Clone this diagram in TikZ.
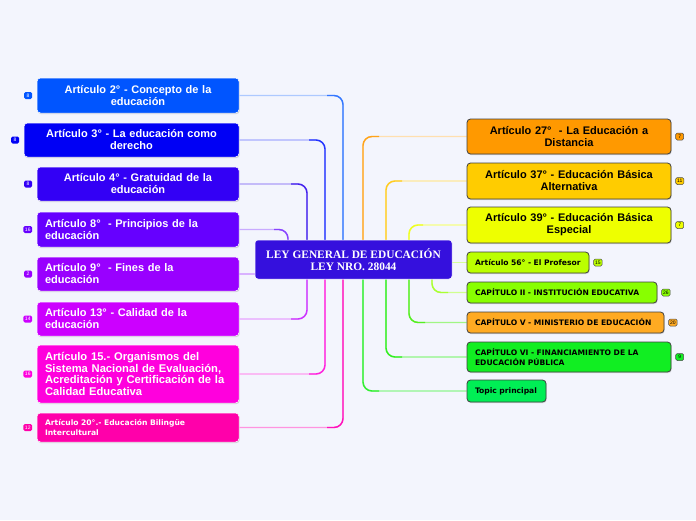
\documentclass[tikz,border=0pt]{standalone}
\usepackage{fontspec}
\setmainfont{Liberation Serif}
\setsansfont{Liberation Sans}
\newfontfamily\dvs{DejaVu Sans}
\usetikzlibrary{shadows,calc}
\pgfdeclarelayer{lines}
\pgfsetlayers{lines,main}
\definecolor{bg}{HTML}{F3F5FD}
\definecolor{cC}{HTML}{3510DD}
\definecolor{cA}{HTML}{0055FF}
\definecolor{cB}{HTML}{0000F5}
\definecolor{cD}{HTML}{3300F5}
\definecolor{cE}{HTML}{6600FF}
\definecolor{cF}{HTML}{9900FF}
\definecolor{cG}{HTML}{CC00FF}
\definecolor{cH}{HTML}{FF00DD}
\definecolor{cI}{HTML}{FF00AA}
\definecolor{rA}{HTML}{FF9900}
\definecolor{rB}{HTML}{FFCC00}
\definecolor{rD}{HTML}{EEFF00}
\definecolor{rE}{HTML}{BBFF00}
\definecolor{rF}{HTML}{88FF00}
\definecolor{rG}{HTML}{FFAA22}
\definecolor{rH}{HTML}{11EE22}
\definecolor{rI}{HTML}{00EE55}
\definecolor{vA}{HTML}{3377FF}
\definecolor{vB}{HTML}{2233FF}
\definecolor{vD}{HTML}{4422EE}
\definecolor{vE}{HTML}{8844FF}
\definecolor{vF}{HTML}{AA55FF}
\definecolor{vG}{HTML}{CC33FF}
\definecolor{vH}{HTML}{FF22DD}
\definecolor{vI}{HTML}{FF11BB}
\definecolor{wA}{HTML}{FFA31A}
\definecolor{wB}{HTML}{FFCC22}
\definecolor{wD}{HTML}{EEFF22}
\definecolor{wE}{HTML}{BBFF55}
\definecolor{wF}{HTML}{AAFF33}
\definecolor{wG}{HTML}{55EE22}
\definecolor{wH}{HTML}{33EE22}
\definecolor{wI}{HTML}{33EE33}
\begin{document}
\begin{tikzpicture}[x=1pt,y=-1pt,
  lnode/.style={rounded corners=3.5pt, draw=white, line width=0.5pt,
    drop shadow={shadow xshift=0.7pt, shadow yshift=-1.1pt, opacity=0.3},
    text=white, font=\sffamily\bfseries\fontsize{11}{12}\selectfont,
    inner xsep=8pt, inner ysep=0pt},
  rnode/.style={rounded corners=3.5pt, draw=black!75, line width=0.8pt,
    drop shadow={shadow xshift=0.7pt, shadow yshift=-1.1pt, opacity=0.3},
    text=black, font=\sffamily\bfseries\fontsize{11}{12}\selectfont,
    inner xsep=8pt, inner ysep=0pt},
  smalltxt/.style={font=\dvs\bfseries\fontsize{7.6}{10}\selectfont, align=left},
  lbadge/.style={rounded corners=1.5pt, text=white, font=\sffamily\fontsize{5}{5}\selectfont,
    minimum width=8pt, minimum height=7pt, inner xsep=1.5pt, inner ysep=1pt, anchor=east},
  rbadge/.style={rounded corners=1.5pt, draw=black!70, line width=0.5pt, text=black,
    font=\sffamily\fontsize{5}{5}\selectfont,
    minimum width=8pt, minimum height=7pt, inner xsep=1.5pt, inner ysep=1pt, anchor=west},
  conn/.style={line width=1.4pt, rounded corners=9pt}
]
\begin{pgfonlayer}{lines}
\fill[bg] (0,0) rectangle (696,520);
\end{pgfonlayer}
\useasboundingbox (0,0) rectangle (696,520);

% ---------- nodes ----------
\node[draw=white, line width=0.5pt, rounded corners=3pt, fill=cC, text=white,
  font=\rmfamily\bfseries\fontsize{11.4}{12.5}\selectfont, align=center,
  minimum width=197pt, minimum height=39pt, inner sep=0pt] (C) at (353.5,259.5)
  {LEY GENERAL DE EDUCACIÓN\\LEY NRO. 28044};

% bend coordinates
\coordinate (xa) at (343,0);
\coordinate (xb) at (325,0);
\coordinate (xc) at (307,0);
\coordinate (xd) at (288,0);
\coordinate (ya) at (363,0);
\coordinate (yb) at (386,0);
\coordinate (yc) at (409,0);
\coordinate (yd) at (432,0);

% left nodes
\node[lnode, fill=cA, text width=186pt, minimum height=35pt, align=center] (L2) at (138,95.5)
  {Artículo 2° - Concepto de la\\educación};
\node[lnode, fill=cB, text width=199pt, minimum height=34pt, align=center] (L3) at (131.5,140)
  {Artículo 3° - La educación como\\derecho};
\node[lnode, fill=cD, text width=186pt, minimum height=34pt, align=center] (L4) at (138,184)
  {Artículo 4° - Gratuidad de la\\educación};
\node[lnode, fill=cE, text width=186pt, minimum height=35pt, align=left] (L8) at (138,229.5)
  {Artículo 8°~ - Principios de la\\educación};
\node[lnode, fill=cF, text width=186pt, minimum height=34pt, align=left] (L9) at (138,274)
  {Artículo 9°~ - Fines de la\\educación};
\node[lnode, fill=cG, text width=186pt, minimum height=34pt, align=left] (L13) at (138,319)
  {Artículo 13° - Calidad de la\\educación};
\node[lnode, fill=cH, text width=186pt, minimum height=58pt, align=left,
  font=\sffamily\bfseries\fontsize{11.2}{11.8}\selectfont] (L15) at (138,374)
  {Artículo 15.- Organismos del\\Sistema Nacional de Evaluación,\\Acreditación y Certificación de la\\Calidad Educativa};
\node[lnode, fill=cI, text width=186pt, minimum height=29pt, smalltxt] (L20) at (138,427.5)
  {Artículo 20°.- Educación Bilingüe\\Intercultural};

% right nodes
\node[rnode, fill=rA, text width=188pt, minimum height=35pt, align=center] (R27) at (569,136.5)
  {Artículo 27°~ - La Educación a\\Distancia};
\node[rnode, fill=rB, text width=188pt, minimum height=36pt, align=center] (R37) at (569,181)
  {Artículo 37° - Educación Básica\\Alternativa};
\node[rnode, fill=rD, text width=188pt, minimum height=36pt, align=center] (R39) at (569,225)
  {Artículo 39° - Educación Básica\\Especial};
\node[rnode, fill=rE, text width=106pt, minimum height=21pt, smalltxt] (R56) at (528,262.5)
  {Artículo 56° - El Profesor};
\node[rnode, fill=rF, text width=174pt, minimum height=21pt, smalltxt] (R2) at (562,292.5)
  {CAPÍTULO II - INSTITUCIÓN EDUCATIVA};
\node[rnode, fill=rG, text width=181pt, minimum height=21pt, smalltxt] (R5) at (565.5,322.5)
  {CAPÍTULO V - MINISTERIO DE EDUCACIÓN};
\node[rnode, fill=rH, text width=188pt, minimum height=30pt, smalltxt] (R6) at (569,357)
  {CAPÍTULO VI - FINANCIAMIENTO DE LA\\EDUCACIÓN PÚBLICA};
\node[rnode, fill=rI, text width=63pt, minimum height=22pt, smalltxt] (RT) at (506.5,391)
  {Topic principal};

% ---------- connectors (behind the nodes) ----------
\begin{pgfonlayer}{lines}
% left upper
\draw[conn, draw=vA!40] (C.north -| xa) |- (L2.east);
\draw[conn, draw=vA] (C.north -| xa) |- ($(xa |- L2.east)+(-16,0)$);
\draw[conn, draw=vB!40] (C.north -| xb) |- (L3.east);
\draw[conn, draw=vB] (C.north -| xb) |- ($(xb |- L3.east)+(-16,0)$);
\draw[conn, draw=vD!45] (C.north -| xc) |- (L4.east);
\draw[conn, draw=vD] (C.north -| xc) |- ($(xc |- L4.east)+(-16,0)$);
\draw[conn, draw=vE!45] (C.north -| xd) |- (L8.east);
\draw[conn, draw=vE] (C.north -| xd) |- ($(xd |- L8.east)+(-14,0)$);
\draw[conn, draw=vF!45] (C.west |- L9.east) -- (L9.east);
% left lower
\draw[conn, draw=vG!45] (C.south -| xc) |- (L13.east);
\draw[conn, draw=vG] (C.south -| xc) |- ($(xc |- L13.east)+(-16,0)$);
\draw[conn, draw=vH!45] (C.south -| xb) |- (L15.east);
\draw[conn, draw=vH] (C.south -| xb) |- ($(xb |- L15.east)+(-16,0)$);
\draw[conn, draw=vI!45] (C.south -| xa) |- (L20.east);
\draw[conn, draw=vI] (C.south -| xa) |- ($(xa |- L20.east)+(-16,0)$);
% right upper
\draw[conn, draw=wA!35] (C.north -| ya) |- (R27.west);
\draw[conn, draw=wA] (C.north -| ya) |- ($(ya |- R27.west)+(16,0)$);
\draw[conn, draw=wB!45] (C.north -| yb) |- (R37.west);
\draw[conn, draw=wB] (C.north -| yb) |- ($(yb |- R37.west)+(16,0)$);
\draw[conn, draw=wD!55] (C.north -| yc) |- (R39.west);
\draw[conn, draw=wD] (C.north -| yc) |- ($(yc |- R39.west)+(14,0)$);
\draw[conn, draw=wE!60] (C.east |- R56.west) -- (R56.west);
% right lower
\draw[conn, draw=wF!55] (C.south -| yd) |- (R2.west);
\draw[conn, draw=wF] (C.south -| yd) |- ($(yd |- R2.west)+(16,0)$);
\draw[conn, draw=wG!55] (C.south -| yc) |- (R5.west);
\draw[conn, draw=wG] (C.south -| yc) |- ($(yc |- R5.west)+(16,0)$);
\draw[conn, draw=wH!55] (C.south -| yb) |- (R6.west);
\draw[conn, draw=wH] (C.south -| yb) |- ($(yb |- R6.west)+(16,0)$);
\draw[conn, draw=wI!55] (C.south -| ya) |- (RT.west);
\draw[conn, draw=wI] (C.south -| ya) |- ($(ya |- RT.west)+(16,0)$);
\end{pgfonlayer}

% ---------- badges ----------
\node[lbadge, fill=cA] (bL2) at ([xshift=-4.5pt]L2.west) {8};
\node[lbadge, fill=cB] (bL3) at ([xshift=-4.5pt]L3.west) {8};
\node[lbadge, fill=cD] (bL4) at ([xshift=-4.5pt]L4.west) {8};
\node[lbadge, fill=cE] (bL8) at ([xshift=-4.5pt]L8.west) {16};
\node[lbadge, fill=cF] (bL9) at ([xshift=-4.5pt]L9.west) {2};
\node[lbadge, fill=cG] (bL13) at ([xshift=-4.5pt]L13.west) {14};
\node[lbadge, fill=cH] (bL15) at ([xshift=-4.5pt]L15.west) {16};
\node[lbadge, fill=cI] (bL20) at ([xshift=-4.5pt]L20.west) {12};
\node[rbadge, fill=rA] (bR27) at ([xshift=4pt]R27.east) {7};
\node[rbadge, fill=rB] (bR37) at ([xshift=4pt]R37.east) {11};
\node[rbadge, fill=rD] (bR39) at ([xshift=4pt]R39.east) {7};
\node[rbadge, fill=rE] (bR56) at ([xshift=4pt]R56.east) {15};
\node[rbadge, fill=rF] (bR2) at ([xshift=4pt]R2.east) {26};
\node[rbadge, fill=rG] (bR5) at ([xshift=4pt]R5.east) {20};
\node[rbadge, fill=rH] (bR6) at ([xshift=4pt]R6.east) {9};
\end{tikzpicture}
\end{document}
